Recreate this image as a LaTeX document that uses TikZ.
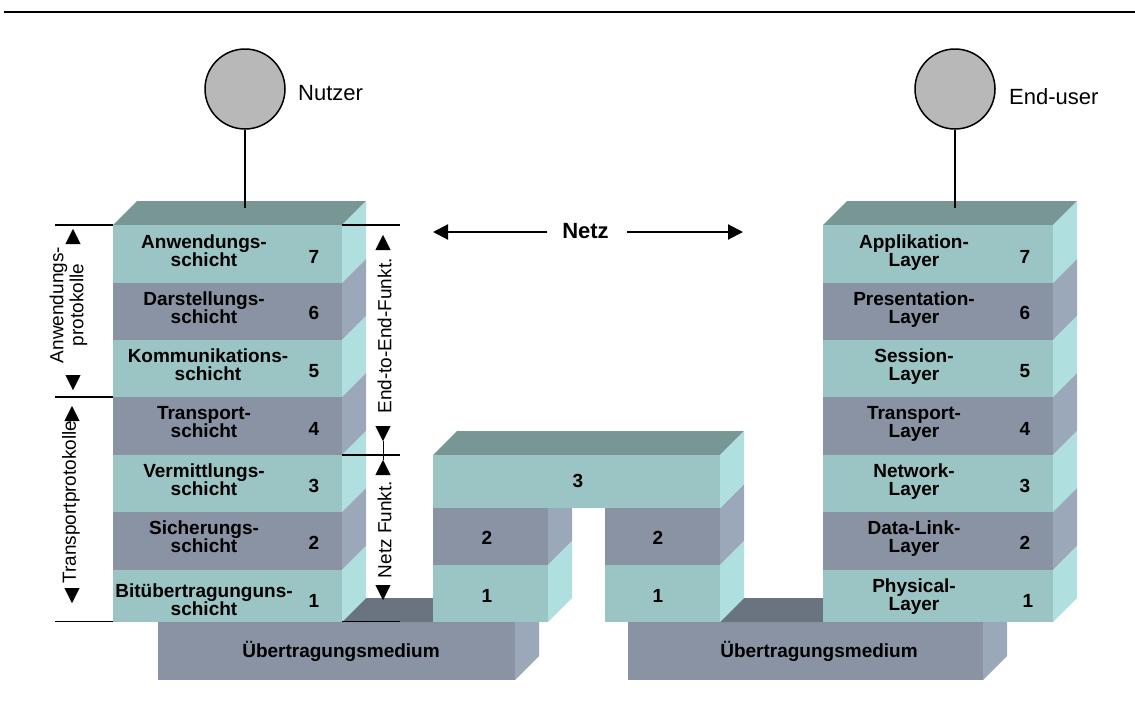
\documentclass[tikz,border=0pt]{standalone}
\usepackage{fontspec}
\setmainfont{Liberation Sans}
\usetikzlibrary{arrows.meta}
\definecolor{lightfront}{HTML}{9BC4C4}
\definecolor{darkfront}{HTML}{8993A3}
\definecolor{lightside}{HTML}{B0DFDF}
\definecolor{darkside}{HTML}{9BA8BA}
\definecolor{topface}{HTML}{789694}
\definecolor{medtop}{HTML}{6A7480}
\definecolor{circfill}{HTML}{B8B8B8}
\newcommand\osilayer[6]{%
  \fill[#5] (#1,#3) rectangle (#2,#4);
  \fill[#6] (#2,#3) -- (#2+24,#3-24) -- (#2+24,#4-24) -- (#2,#4) -- cycle;}
\newcommand\ositop[4]{%
  \fill[#4] (#1,#3) -- (#1+24,#3-24) -- (#2+24,#3-24) -- (#2,#3) -- cycle;}
\begin{document}
\begin{tikzpicture}[x=1pt,y=-1pt,
  lbl/.style={font=\fontsize{19}{18}\selectfont\bfseries, align=center, inner sep=0pt, execute at end node=\strut},
  num/.style={font=\fontsize{19}{18}\selectfont\bfseries, inner sep=0pt},
  vlbl/.style={font=\fontsize{19}{20}\selectfont, align=center, rotate=90, inner sep=0.5pt},
  user/.style={circle, draw=black, line width=1.5pt, fill=circfill, minimum size=80pt, inner sep=0pt},
  usrname/.style={font=\fontsize{22}{26}\selectfont, inner sep=0pt, anchor=west},
  dimarrow/.style={draw=white, line width=0.4pt,
    {Triangle[length=15pt,width=15pt,color=black]}-{Triangle[length=15pt,width=15pt,color=black]}},
  netzarrow/.style={line width=2pt, -{Triangle[length=15pt,width=15pt]}},
  rule/.style={line width=1.6pt},
  stem/.style={line width=2.6pt}]
\useasboundingbox (0,0) rectangle (1135,715);

% top rule
\draw[line width=2.5pt] (4,12) -- (1135,12);

% transmission media
\osilayer{158}{515}{622}{680}{darkfront}{darkside}
\fill[medtop] (158,622) -- (182,598) -- (539,598) -- (515,622) -- cycle;
\osilayer{628}{983}{622}{680}{darkfront}{darkside}
\fill[medtop] (628,622) -- (652,598) -- (1007,598) -- (983,622) -- cycle;

% left stack
\ositop{113}{342}{225}{topface}
\osilayer{113}{342}{225}{283}{lightfront}{lightside}
\osilayer{113}{342}{283}{340}{darkfront}{darkside}
\osilayer{113}{342}{340}{397}{lightfront}{lightside}
\osilayer{113}{342}{397}{455}{darkfront}{darkside}
\osilayer{113}{342}{455}{512}{lightfront}{lightside}
\osilayer{113}{342}{512}{570}{darkfront}{darkside}
\osilayer{113}{342}{570}{622}{lightfront}{lightside}

% right stack
\ositop{823}{1053}{225}{topface}
\osilayer{823}{1053}{225}{283}{lightfront}{lightside}
\osilayer{823}{1053}{283}{340}{darkfront}{darkside}
\osilayer{823}{1053}{340}{397}{lightfront}{lightside}
\osilayer{823}{1053}{397}{455}{darkfront}{darkside}
\osilayer{823}{1053}{455}{512}{lightfront}{lightside}
\osilayer{823}{1053}{512}{570}{darkfront}{darkside}
\osilayer{823}{1053}{570}{622}{lightfront}{lightside}

% middle relay
\osilayer{433}{548}{508}{565}{darkfront}{darkside}
\osilayer{433}{548}{565}{622}{lightfront}{lightside}
\osilayer{605}{720}{508}{565}{darkfront}{darkside}
\osilayer{605}{720}{565}{622}{lightfront}{lightside}
\ositop{433}{720}{455}{topface}
\osilayer{433}{720}{455}{508}{lightfront}{lightside}

% bracket lines
\draw[rule] (55,225) -- (113,225);
\draw[rule] (342,225) -- (400,225);
\draw[rule] (55,397) -- (113,397);
\draw[rule] (342,455) -- (400,455);
\draw[rule] (55,621.5) -- (113,621.5);
\draw[rule] (342,621.5) -- (400,621.5);

% users
\node[user] (u1) at (245,89) {};
\node[user] (u2) at (955,89) {};
\node[usrname] (n1) at (298,93) {Nutzer};
\node[usrname] (n2) at (1009,97) {End-user};
\coordinate (c1) at (245,208);
\coordinate (c2) at (955,208);
\draw[stem] (u1.south) -- (c1);
\draw[stem] (u2.south) -- (c2);

% Netz
\node[font=\fontsize{22}{26}\selectfont\bfseries, inner sep=0pt] (netz) at (585.5,231) {Netz};
\coordinate (nL) at (433,232);
\coordinate (nR) at (743,232);
\draw[netzarrow] ([xshift=-15pt,yshift=-1pt]netz.west) -- (nL);
\draw[netzarrow] ([xshift=18pt,yshift=-1pt]netz.east) -- (nR);

% left stack labels
\node[lbl] (a7) at (204,253) {Anwendungs-\\schicht};
\node[lbl] (a6) at (204,310) {Darstellungs-\\schicht};
\node[lbl] (a5) at (208,367) {Kommunikations-\\schicht};
\node[lbl] (a4) at (204,425) {Transport-\\schicht};
\node[lbl] (a3) at (204,482.5) {Vermittlungs-\\schicht};
\node[lbl] (a2) at (204,539) {Sicherungs-\\schicht};
\node[lbl] (a1) at (204,602) {Bitübertragunguns-\\schicht};
\node[num] (an7) at (314,256.5) {7};
\node[num] (an6) at (314,313) {6};
\node[num] (an5) at (314,371) {5};
\node[num] (an4) at (314,429) {4};
\node[num] (an3) at (314,486) {3};
\node[num] (an2) at (314,542.5) {2};
\node[num] (an1) at (314,601) {1};

% right stack labels
\node[lbl] (b7) at (914,253) {Applikation-\\Layer};
\node[lbl] (b6) at (914,310) {Presentation-\\Layer};
\node[lbl] (b5) at (914,367) {Session-\\Layer};
\node[lbl] (b4) at (914,425) {Transport-\\Layer};
\node[lbl] (b3) at (914,482.5) {Network-\\Layer};
\node[lbl] (b2) at (914,539) {Data-Link-\\Layer};
\node[lbl] (b1) at (914,597) {Physical-\\Layer};
\node[num] (bn7) at (1025,256.5) {7};
\node[num] (bn6) at (1025,313) {6};
\node[num] (bn5) at (1025,371) {5};
\node[num] (bn4) at (1025,429) {4};
\node[num] (bn3) at (1025,486) {3};
\node[num] (bn2) at (1025,542.5) {2};
\node[num] (bn1) at (1028,601) {1};

% middle labels
\node[num] (m3) at (578,481) {3};
\node[num] (m2l) at (487,537.5) {2};
\node[num] (m2r) at (658,537.5) {2};
\node[num] (m1l) at (487,596) {1};
\node[num] (m1r) at (658,596) {1};

% media labels
\node[num] (med1) at (341,651) {Übertragungsmedium};
\node[num] (med2) at (819,651) {Übertragungsmedium};

% dimension arrows
\coordinate (apT) at (73,229);
\coordinate (apB) at (73,390);
\draw[dimarrow] (apT) -- (apB);
\node[vlbl] (ap) at (68.5,305) {Anwendungs-\\protokolle};

\coordinate (tpT) at (72,406);
\coordinate (tpB) at (72,603);
\draw[dimarrow] (tpT) -- (tpB);
\node[vlbl] (tp) at (71,502) {Transportprotokolle};

\coordinate (eeT) at (383,235);
\coordinate (eeB) at (383,441);
\draw[dimarrow] (eeT) -- (eeB);
\node[vlbl] (ee) at (384.5,336) {End-to-End-Funkt.};

\coordinate (nfT) at (383,460);
\coordinate (nfB) at (383,600);
\draw[dimarrow] (nfT) -- (nfB);
\node[vlbl] (nf) at (384.5,529.5) {Netz Funkt.};
\draw[line width=0.8pt] (eeB) -- (nfT);
\end{tikzpicture}
\end{document}
